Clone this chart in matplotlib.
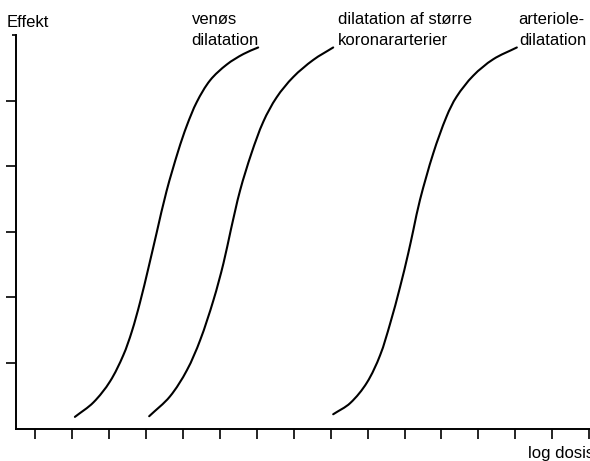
import numpy as np
import matplotlib
matplotlib.use("Agg")
import matplotlib.pyplot as plt
from matplotlib.path import Path
from matplotlib.patches import PathPatch

plt.rcParams['font.family'] = ['Liberation Sans', 'DejaVu Sans']

# ---- data ----
x_ticks = list(range(1, 17))
y_ticks = [1, 2, 3, 4, 5]

venos_x = [2.08, 2.58, 3.03, 3.39, 3.62, 3.84, 4.07, 4.29, 4.56, 4.88, 5.11, 5.38, 5.74, 6.19, 6.64, 7.04]
venos_y = [0.18, 0.40, 0.72, 1.12, 1.48, 1.92, 2.45, 2.98, 3.62, 4.24, 4.62, 4.98, 5.31, 5.55, 5.71, 5.81]

koronar_x = [4.09, 4.65, 5.11, 5.47, 5.83, 6.10, 6.30, 6.55, 6.86, 7.18, 7.54, 7.99, 8.53, 9.07]
koronar_y = [0.19, 0.49, 0.89, 1.35, 1.96, 2.52, 3.03, 3.63, 4.20, 4.68, 5.05, 5.36, 5.62, 5.81]

arteriole_x = [9.07, 9.53, 9.98, 10.34, 10.61, 10.88, 11.10, 11.24, 11.42, 11.78, 12.14, 12.41, 12.86, 13.40, 14.04]
arteriole_y = [0.22, 0.39, 0.70, 1.12, 1.60, 2.16, 2.67, 3.03, 3.49, 4.20, 4.76, 5.06, 5.38, 5.63, 5.81]

venos_label = ["venøs", "dilatation"]
koronar_label = ["dilatation af større", "koronararterier"]
arteriole_label = ["arteriole-", "dilatation"]
y_label = "Effekt"
x_label = "log dosis"

W, H = 590, 461
fig = plt.figure(figsize=(W / 100, H / 100), dpi=100)
fig.patch.set_facecolor('white')

ax_left, ax_right = 15.7, 590.0
ax_bottom, ax_top = 428.7, 35.0
ax = fig.add_axes([ax_left / W, 1 - ax_bottom / H, (ax_right - ax_left) / W, (ax_bottom - ax_top) / H])
ax.set_xlim(0.478, 16.02)
ax.set_ylim(0, 6)
ax.set_facecolor('none')

for s in ['top', 'right']:
    ax.spines[s].set_visible(False)
for s in ['left', 'bottom']:
    ax.spines[s].set_linewidth(1.4)
    ax.spines[s].set_color('black')

ax.set_xticks(x_ticks)
ax.set_xticklabels([])
ax.set_yticks(y_ticks)
ax.set_yticklabels([])
ax.set_yticks([6], minor=True)
ax.tick_params(axis='x', which='major', direction='out', length=7.2, width=1.2, color='black')
ax.tick_params(axis='y', which='major', direction='out', length=7.5, width=1.2, color='black')
ax.tick_params(axis='y', which='minor', direction='out', length=2.6, width=1.2, color='black')


def smooth_curve(xs, ys):
    # chord-length Catmull-Rom (as cubic Bezier) through the read points, in display space
    P = ax.transData.transform(np.column_stack([xs, ys]))
    n = len(P)
    d = np.linalg.norm(np.diff(P, axis=0), axis=1)
    t = np.concatenate([[0], np.cumsum(d)])
    M = np.zeros_like(P)
    M[0] = (P[1] - P[0]) / (t[1] - t[0])
    M[-1] = (P[-1] - P[-2]) / (t[-1] - t[-2])
    for i in range(1, n - 1):
        M[i] = (P[i + 1] - P[i - 1]) / (t[i + 1] - t[i - 1])
    verts = [P[0]]
    codes = [Path.MOVETO]
    for i in range(n - 1):
        h = t[i + 1] - t[i]
        verts += [P[i] + M[i] * h / 3.0, P[i + 1] - M[i + 1] * h / 3.0, P[i + 1]]
        codes += [Path.CURVE4] * 3
    return Path(verts, codes)


for xs, ys in [(venos_x, venos_y), (koronar_x, koronar_y), (arteriole_x, arteriole_y)]:
    patch = PathPatch(smooth_curve(xs, ys), fill=False, edgecolor='black', lw=1.5,
                      capstyle='round', transform=None)
    fig.add_artist(patch)

fs = 12


def put(text, x, y):
    fig.text(x / W, 1 - y / H, text, ha='left', va='baseline', fontsize=fs, color='black')


put(y_label, 7, 26.7)
put(venos_label[0], 191.7, 23.5)
put(venos_label[1], 191.7, 45)
put(koronar_label[0], 338.3, 23.5)
put(koronar_label[1], 338.3, 45)
put(arteriole_label[0], 518.3, 23.5)
put(arteriole_label[1], 519, 45)
put(x_label, 528, 458)

fig.savefig("out.png", dpi=100, facecolor='white')
